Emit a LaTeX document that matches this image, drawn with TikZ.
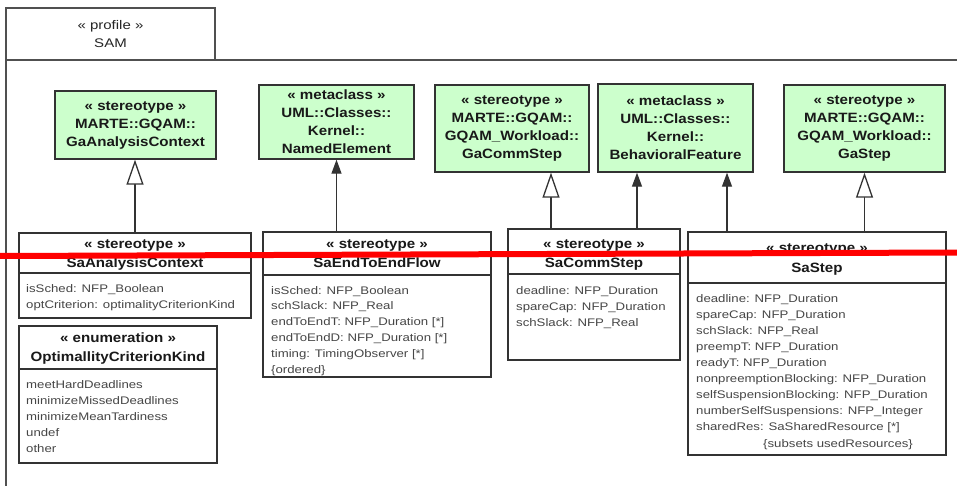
\documentclass[tikz,border=0pt]{standalone}
\usepackage{fontspec}
\usetikzlibrary{arrows.meta}
\newfontfamily\attrf{Liberation Sans}[FakeStretch=1.2]
\newfontfamily\headf{Liberation Sans}[FakeStretch=1.12]
\definecolor{gfill}{RGB}{204,255,204}
\definecolor{bord}{RGB}{51,51,51}
\definecolor{atxt}{RGB}{70,70,70}
\definecolor{fcol}{RGB}{80,80,80}
\tikzset{
  gbox/.style={draw=bord, line width=1.4pt, fill=gfill, inner sep=0pt, align=center,
    font=\headf\bfseries\fontsize{13.5}{18}\selectfont, text=black!90},
  cbox/.style={draw=bord, line width=1.4pt, fill=white, inner sep=0pt},
  hdr/.style={anchor=base, inner sep=0pt, font=\headf\bfseries\fontsize{13.5}{18}\selectfont, text=black!90},
  attr/.style={anchor=base west, inner sep=0pt, font=\attrf\fontsize{11}{16}\selectfont, text=atxt},
  frameline/.style={draw=fcol, line width=1.3pt},
  gen/.style={draw=bord, line width=1.3pt, -{Triangle[open, length=25pt, width=17pt, fill=white]}},
  ext/.style={draw=bord, line width=1.3pt, -{Triangle[length=14pt, width=10pt]}},
}
\begin{document}
\begin{tikzpicture}[x=1pt, y=-1pt]
\useasboundingbox (0,0) rectangle (957,486);
\fill[white] (0,0) rectangle (957,486);
% profile frame
\draw[frameline] (6,486) -- (6,60) -- (957,60);
\node[draw=fcol, line width=1.3pt, minimum width=209pt, minimum height=52pt, inner sep=0pt, align=center,
  font=\attrf\fontsize{12.5}{18}\selectfont, text=black!85] (tab) at (110.5,34) {« profile »\\SAM};
% green boxes
\node[gbox, minimum width=161pt, minimum height=68pt] (ga) at (135.5,125) {« stereotype »\\MARTE::GQAM::\\GaAnalysisContext};
\node[gbox, minimum width=155pt, minimum height=74pt] (ne) at (336.5,122) {« metaclass »\\UML::Classes::\\Kernel::\\NamedElement};
\node[gbox, minimum width=154pt, minimum height=87pt] (gcs) at (512,128.5) {« stereotype »\\MARTE::GQAM::\\GQAM\_Workload::\\GaCommStep};
\node[gbox, minimum width=155pt, minimum height=88pt] (bf) at (675.5,128) {« metaclass »\\UML::Classes::\\Kernel::\\BehavioralFeature};
\node[gbox, minimum width=161pt, minimum height=87pt] (gst) at (864.5,128.5) {« stereotype »\\MARTE::GQAM::\\GQAM\_Workload::\\GaStep};
% class boxes
\node[cbox, minimum width=232pt, minimum height=85pt] (sac) at (135,275.5) {};
\node[cbox, minimum width=198pt, minimum height=137pt] (enm) at (118,394.5) {};
\node[cbox, minimum width=228pt, minimum height=145pt] (e2e) at (377,304.5) {};
\node[cbox, minimum width=172pt, minimum height=131pt] (cs) at (594,294.5) {};
\node[cbox, minimum width=258pt, minimum height=223pt] (st) at (817,343.5) {};
% dividers
\draw[draw=bord, line width=1.4pt] (sac.west |- 0,273) -- (sac.east |- 0,273);
\draw[draw=bord, line width=1.4pt] (enm.west |- 0,369) -- (enm.east |- 0,369);
\draw[draw=bord, line width=1.4pt] (e2e.west |- 0,275) -- (e2e.east |- 0,275);
\draw[draw=bord, line width=1.4pt] (cs.west |- 0,274) -- (cs.east |- 0,274);
\draw[draw=bord, line width=1.4pt] (st.west |- 0,283) -- (st.east |- 0,283);
% headers
\node[hdr] (sacH1) at (135,248) {« stereotype »};
\node[hdr] (sacH2) at (135,267) {SaAnalysisContext};
\node[hdr] (enmH1) at (118,342) {« enumeration »};
\node[hdr] (enmH2) at (118,361) {OptimallityCriterionKind};
\node[hdr] (e2eH1) at (377,248) {« stereotype »};
\node[hdr] (e2eH2) at (377,267) {SaEndToEndFlow};
\node[hdr] (csH1) at (594,248) {« stereotype »};
\node[hdr] (csH2) at (594,267) {SaCommStep};
\node[hdr] (stH1) at (817,252) {« stereotype »};
\node[hdr] (stH2) at (817,272) {SaStep};
% attributes
\foreach \txt [count=\i] in {isSched: NFP\_Boolean, optCriterion: optimalityCriterionKind}
  \node[attr, name=sacA\i] at (26,{292+16*(\i-1)}) {\txt};
\foreach \txt [count=\i] in {meetHardDeadlines, minimizeMissedDeadlines, minimizeMeanTardiness, undef, other}
  \node[attr, name=enmA\i] at (26,{388+16*(\i-1)}) {\txt};
\foreach \txt [count=\i] in {isSched: NFP\_Boolean, schSlack: NFP\_Real, endToEndT: NFP\_Duration [*], endToEndD: NFP\_Duration [*], timing: TimingObserver [*], \{ordered\}}
  \node[attr, name=e2eA\i] at (271,{294+15.9*(\i-1)}) {\txt};
\foreach \txt [count=\i] in {deadline: NFP\_Duration, spareCap: NFP\_Duration, schSlack: NFP\_Real}
  \node[attr, name=csA\i] at (516,{294+16*(\i-1)}) {\txt};
\foreach \txt [count=\i] in {deadline: NFP\_Duration, spareCap: NFP\_Duration, schSlack: NFP\_Real, preempT: NFP\_Duration, readyT: NFP\_Duration, nonpreemptionBlocking: NFP\_Duration, selfSuspensionBlocking: NFP\_Duration, numberSelfSuspensions: NFP\_Integer, sharedRes: SaSharedResource [*]}
  \node[attr, name=stA\i] at (696,{302+16.1*(\i-1)}) {\txt};
\node[attr] (stA10) at (763,447) {\{subsets usedResources\}};
% connectors
\coordinate (c1) at (551,0);
\coordinate (c2) at (637,0);
\coordinate (c3) at (727,0);
\draw[gen] (sac.north) -- (sac.north |- ga.south);
\draw[ext] (e2e.north -| ne.south) -- (ne.south);
\draw[gen] (cs.north -| c1) -- (gcs.south -| c1);
\draw[ext] (cs.north -| c2) -- (bf.south -| c2);
\draw[ext] (st.north -| c3) -- (bf.south -| c3);
\draw[gen] (st.north -| gst.south) -- (gst.south);
% red strike line
\coordinate (r1) at (0,256);
\coordinate (r2) at (957,252.5);
\draw[red, line width=6pt] (r1) -- (r2);
\end{tikzpicture}
\end{document}
